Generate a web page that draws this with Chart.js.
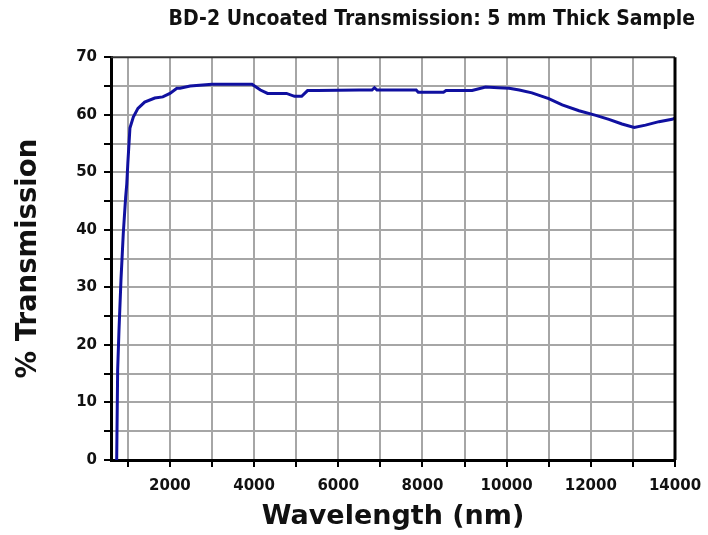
<!DOCTYPE html>
<html>
<head>
<meta charset="utf-8">
<title>BD-2 Uncoated Transmission</title>
<script src="https://cdn.jsdelivr.net/npm/chart.js@4.4.1/dist/chart.umd.min.js"></script>
<style>
  body { margin: 0; background: #fff; }
  canvas { display: block; }
</style>
</head>
<body>
<canvas id="chart" width="708" height="535"></canvas>
<script>
// values
var wavelength = [735, 758, 790, 837, 892, 948, 975, 1000, 1050, 1130, 1240, 1400, 1640, 1830, 2000,
  2165, 2240, 2480, 3000, 3950, 4150, 4320, 4770, 4960, 5130, 5270, 5500, 6500, 6800, 6860,
  6920, 7850, 7900, 8500, 8560, 9180, 9500, 9800, 10060, 10300, 10600, 11000, 11320, 11720,
  12120, 12430, 12740, 13030, 13300, 13620, 13930, 14000];
var transmission = [0, 15.6, 22.6, 31.3, 39.4, 45.7, 48, 51.6, 57.7, 59.6, 61.1, 62.2, 62.9, 63.1, 63.7,
  64.6, 64.6, 65.0, 65.3, 65.3, 64.3, 63.7, 63.7, 63.2, 63.2, 64.2, 64.2, 64.3, 64.3, 64.7,
  64.3, 64.3, 63.9, 63.9, 64.2, 64.2, 64.8, 64.7, 64.6, 64.3, 63.8, 62.8, 61.7, 60.7,
  59.9, 59.2, 58.4, 57.8, 58.2, 58.8, 59.2, 59.4];
var xTicks = [1000, 2000, 3000, 4000, 5000, 6000, 7000, 8000, 9000, 10000, 11000, 12000, 13000, 14000];

var points = wavelength.map(function (w, i) {
  return { x: w, y: transmission[i] };
});

var tickFont = { family: "DejaVu Sans", size: 15, weight: "bold" };
var titleFont = { family: "DejaVu Sans", size: 27, weight: "bold" };

// dark frame on the top and right edges
var frame = {
  id: "frame",
  afterDatasetsDraw: function (chart) {
    var a = chart.chartArea, ctx = chart.ctx;
    ctx.save();
    ctx.strokeStyle = "#333";
    ctx.lineWidth = 2;
    ctx.beginPath();
    ctx.moveTo(a.left, a.top);
    ctx.lineTo(a.right, a.top);
    ctx.stroke();
    ctx.strokeStyle = "#000";
    ctx.lineWidth = 3;
    ctx.beginPath();
    ctx.moveTo(a.right, a.top);
    ctx.lineTo(a.right, a.bottom);
    ctx.stroke();
    ctx.restore();
  }
};

new Chart(document.getElementById("chart").getContext("2d"), {
  type: "scatter",
  data: {
    datasets: [{
      data: points,
      showLine: true,
      borderColor: "#1010a0",
      borderWidth: 3,
      pointRadius: 0,
      tension: 0
    }]
  },
  options: {
    responsive: false,
    animation: false,
    layout: { padding: { left: 0, right: 13, top: 0, bottom: 0 } },
    plugins: {
      legend: { display: false },
      tooltip: { enabled: false },
      title: {
        display: true,
        text: "BD-2 Uncoated Transmission: 5 mm Thick Sample",
        align: "end",
        color: "#111",
        font: { family: "'DejaVu Sans Condensed', 'Liberation Sans', sans-serif", size: 21, weight: "bold" },
        padding: { top: 7, bottom: 25 }
      }
    },
    scales: {
      x: {
        type: "linear",
        min: 600,
        max: 14000,
        afterBuildTicks: function (scale) {
          scale.ticks = xTicks.map(function (v) { return { value: v }; });
        },
        afterFit: function (scale) {
          scale.paddingLeft = 0;
          scale.paddingRight = 33;
          scale.height = 75;
        },
        ticks: {
          color: "#111",
          font: tickFont,
          padding: 10,
          maxRotation: 0,
          autoSkip: false,
          callback: function (v) { return v % 2000 === 0 ? String(v) : ""; }
        },
        grid: {
          color: function (c) { return c.tick && c.tick.value === 14000 ? "rgba(0,0,0,0)" : "#a6a6a6"; },
          lineWidth: 2,
          tickColor: "#000",
          tickLength: 7,
          tickWidth: 2
        },
        border: { color: "#000", width: 3 },
        title: {
          display: true,
          text: "Wavelength (nm)",
          color: "#111",
          font: titleFont,
          padding: { top: 0, bottom: 2 }
        }
      },
      y: {
        min: 0,
        max: 70,
        afterFit: function (scale) {
          scale.width = 111;
        },
        ticks: {
          stepSize: 5,
          color: "#111",
          font: tickFont,
          padding: 7,
          callback: function (v) { return v % 10 === 0 ? String(v) : ""; }
        },
        grid: {
          color: function (c) { return c.tick && c.tick.value === 70 ? "rgba(0,0,0,0)" : "#a6a6a6"; },
          lineWidth: 2,
          tickColor: "#000",
          tickLength: 7,
          tickWidth: 2
        },
        border: { color: "#000", width: 3 },
        title: {
          display: true,
          text: "% Transmission",
          color: "#111",
          font: { family: "DejaVu Sans", size: 27.5, weight: "bold" },
          padding: { top: 12, bottom: 0 }
        }
      }
    }
  },
  plugins: [frame]
});
</script>
</body>
</html>
